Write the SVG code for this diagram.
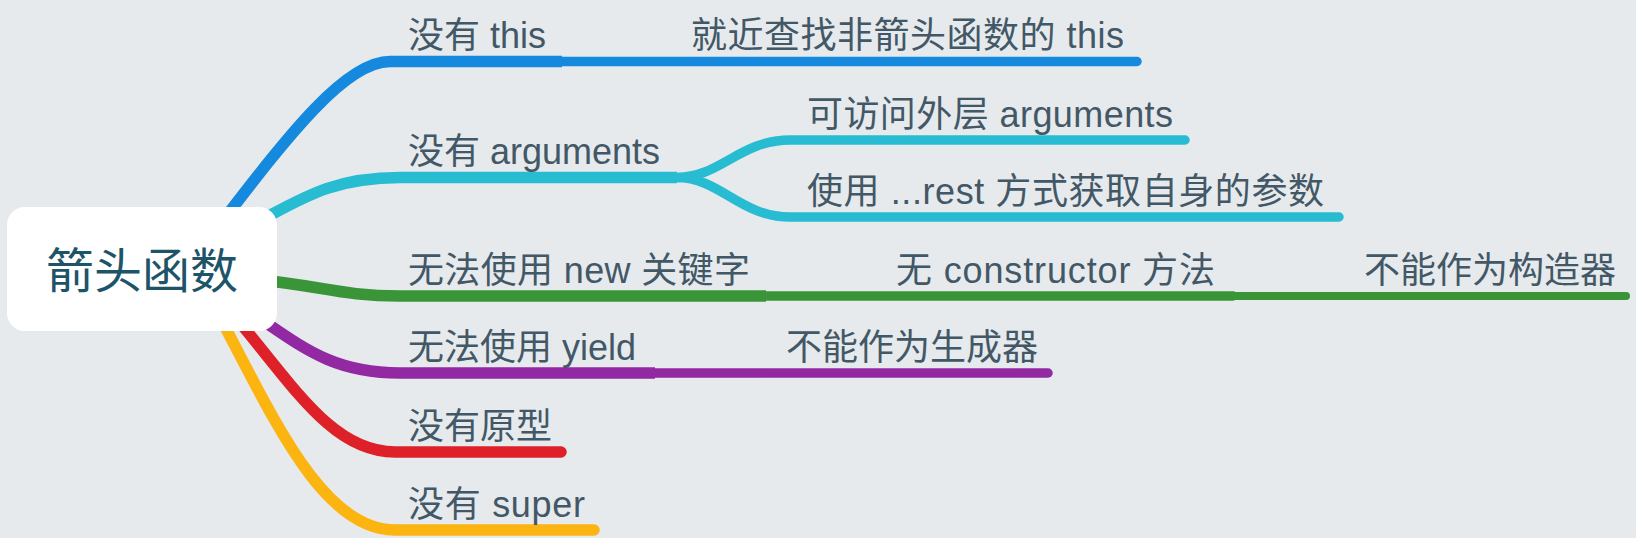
<svg xmlns="http://www.w3.org/2000/svg" width="1636" height="538" viewBox="0 0 1636 538">
<style>
.bg{fill:#e6eaed}
.c{fill:none;stroke-linejoin:round}
.l1{stroke-width:11.5;stroke-linecap:butt}
.l1e{stroke-width:11.5;stroke-linecap:round}
.l2{stroke-width:9.5;stroke-linecap:round}
.l3{stroke-width:8;stroke-linecap:round}
.blue{stroke:#1589de}
.teal{stroke:#27bcd2}
.green{stroke:#3a9538}
.purple{stroke:#9229a3}
.red{stroke:#de2128}
.yellow{stroke:#fcb410}
.t{font-family:"Liberation Sans","Noto Sans CJK SC",sans-serif;font-size:36px;fill:#435866}
.root-box{fill:#ffffff}
.root-t{font-family:"Liberation Sans","Noto Sans CJK SC",sans-serif;font-size:48px;fill:#1e5468;text-anchor:middle}
</style>
<rect class="bg" x="0" y="0" width="1636" height="538"/>
<g id="connectors">
  <path class="c l1 blue" d="M 221 223 C 288 136, 345 61.5, 390 61.5 L 562 61.5"/>
  <path class="c l2 blue" d="M 562 61.5 L 1137 61.5"/>
  <path class="c l1 teal" d="M 250 226 C 300 200, 330 177.5, 400 177.5 L 677 177.5"/>
  <path class="c l2 teal" d="M 677 177.5 C 720 177.5, 740 140, 790 140 L 1185 140"/>
  <path class="c l2 teal" d="M 677 177.5 C 720 177.5, 740 217, 790 217 L 1339 217"/>
  <path class="c l1 green" d="M 250 279 C 320 285, 340 296, 400 296 L 766 296"/>
  <path class="c l2 green" d="M 766 296 L 1233 296"/>
  <path class="c l3 green" d="M 1233 296 L 1626 296"/>
  <path class="c l1 purple" d="M 250 312 C 300 345, 330 373, 400 373 L 655 373"/>
  <path class="c l2 purple" d="M 655 373 L 1048 373"/>
  <path class="c l1e red" d="M 230 311 C 290 380, 330 452, 395 452 L 561 452"/>
  <path class="c l1e yellow" d="M 215 308 C 270 410, 320 530, 395 530 L 594 530"/>
</g>
<g id="root">
  <rect class="root-box" x="7" y="207" width="270" height="124" rx="18"/>
  <text class="root-t" x="142" y="288">箭头函数</text>
</g>
<g id="n-this"><text class="t" x="408" y="48">没有 this</text></g>
<g id="n-this-1"><text class="t" x="691" y="48" textLength="433" lengthAdjust="spacing">就近查找非箭头函数的 this</text></g>
<g id="n-args"><text class="t" x="408" y="164">没有 arguments</text></g>
<g id="n-args-1"><text class="t" x="807" y="126.5" textLength="366" lengthAdjust="spacing">可访问外层 arguments</text></g>
<g id="n-args-2"><text class="t" x="807" y="203.5" textLength="517" lengthAdjust="spacing">使用 ...rest 方式获取自身的参数</text></g>
<g id="n-new"><text class="t" x="408" y="282.5" textLength="342" lengthAdjust="spacing">无法使用 new 关键字</text></g>
<g id="n-new-1"><text class="t" x="896" y="282.5" textLength="319" lengthAdjust="spacing">无 constructor 方法</text></g>
<g id="n-new-2"><text class="t" x="1364" y="282.5">不能作为构造器</text></g>
<g id="n-yield"><text class="t" x="408" y="359.5">无法使用 yield</text></g>
<g id="n-yield-1"><text class="t" x="786" y="359.5">不能作为生成器</text></g>
<g id="n-proto"><text class="t" x="408" y="438.5">没有原型</text></g>
<g id="n-super"><text class="t" x="408" y="516.5" textLength="177" lengthAdjust="spacing">没有 super</text></g>
</svg>
